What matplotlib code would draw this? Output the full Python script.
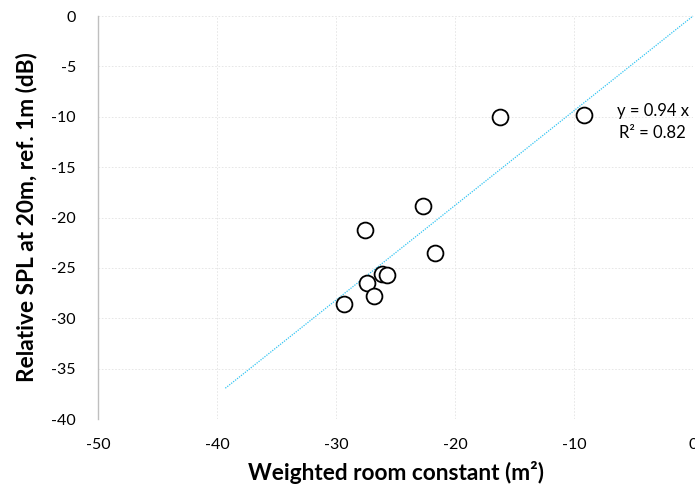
import matplotlib
matplotlib.use("Agg")
import matplotlib.pyplot as plt
import numpy as np

plt.rcParams['font.family'] = ['Lato', 'DejaVu Sans']

# Data
room_constant = [-29.3, -27.4, -26.8, -27.6, -26.1, -25.7, -22.7, -21.7, -16.2, -9.2]
relative_spl = [-28.6, -26.5, -27.8, -21.2, -25.6, -25.7, -18.9, -23.5, -10.0, -9.8]
trend_slope = 0.94
trend_r2 = 0.82
trend_x_range = [-39.3, 0.0]
x_ticks = [-50, -40, -30, -20, -10, 0]
y_ticks = [0, -5, -10, -15, -20, -25, -30, -35, -40]

fig = plt.figure(figsize=(6.95, 4.91), dpi=100)
ax = fig.add_axes([98/695, (491-419)/491, (693-98)/695, (419-16)/491])

ax.set_xlim(-50, 0)
ax.set_ylim(-40, 0)
ax.set_xticks(x_ticks)
ax.set_yticks(y_ticks)
ax.set_xticklabels([str(t) for t in x_ticks])
ax.set_yticklabels([str(t) for t in y_ticks])

grid_kw = dict(color='#E3E3E3', linewidth=0.6, linestyle=(0, (2, 2)), zorder=0)
for yt in y_ticks:
    if yt != -40:
        ax.axhline(yt, **grid_kw)
for xt in x_ticks:
    if xt != -50:
        ax.axvline(xt, **grid_kw)

for s in ['top', 'right', 'bottom']:
    ax.spines[s].set_visible(False)
ax.spines['left'].set_color('#BFBFBF')
ax.spines['left'].set_linewidth(1.0)

ax.tick_params(axis='both', length=0, labelsize=11.5, colors='black')
ax.tick_params(axis='x', pad=14)
ax.tick_params(axis='y', pad=16)

tx = np.array(trend_x_range)
ax.plot(tx, trend_slope * tx, color='#33C4F2', linewidth=0.9,
        linestyle=(0, (1, 1)), zorder=2, clip_on=False)

ax.scatter(room_constant, relative_spl, s=130, facecolors='white',
           edgecolors='black', linewidths=1.3, zorder=3)

ax.text(-3.4, -10.5, f"y = {trend_slope:.2f} x\nR² = {trend_r2:.2f}",
        ha='center', va='center', fontsize=12, linespacing=1.5)

ax.set_xlabel("Weighted room constant (m²)", fontsize=16.3, fontweight='bold')
ax.set_ylabel("Relative SPL at 20m, ref. 1m (dB)", fontsize=16.3, fontweight='bold')
ax.xaxis.set_label_coords(0.5, -0.105)
ax.yaxis.set_label_coords(-0.1025, 0.5)

fig.savefig("out.png", dpi=100)
